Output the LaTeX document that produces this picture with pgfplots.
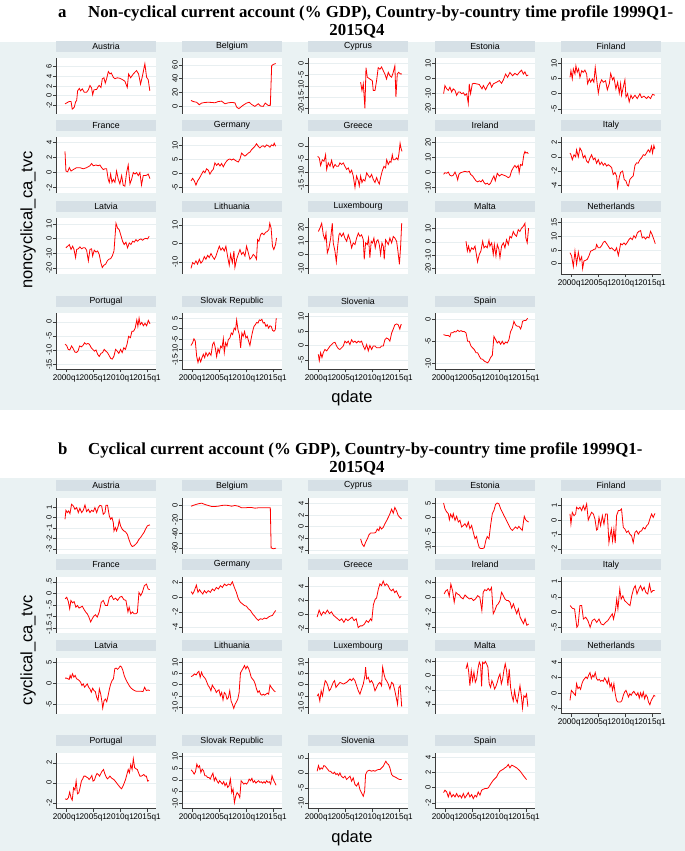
\documentclass[border=0pt]{standalone}
\usepackage{pgfplots}
\pgfplotsset{compat=1.18}
\usepackage{fontspec}
\setmainfont{Liberation Serif}
\newfontfamily\arial{Liberation Sans}
\definecolor{bgc}{RGB}{234,242,243}
\definecolor{stripc}{RGB}{214,224,230}
\definecolor{gridc}{RGB}{232,239,241}
\definecolor{axc}{RGB}{60,60,60}

\pgfplotsset{
  panel/.style={
    scale only axis, width=100pt, height=56pt, anchor=south west,
    xmin=-3.8, xmax=70.7,
    axis background/.style={fill=white},
    axis y line*=left, axis x line*=bottom,
    axis line style={draw=axc, line width=0.6pt},
    x axis line style={draw=none}, xtick=\empty,
    tick align=outside, major tick length=3pt,
    tick style={draw=axc, line width=0.5pt},
    ymajorgrids, grid style={draw=gridc, line width=0.6pt},
    yticklabel style={rotate=90, anchor=south, inner sep=1pt, font=\arial\fontsize{7.5}{8}\selectfont},
    xticklabel style={font=\arial\fontsize{8.2}{9}\selectfont, inner sep=1pt, yshift=-1.5pt},
    title style={at={(0.5,1)}, anchor=south, yshift=0pt, fill=stripc,
      minimum width=100pt, minimum height=11pt, inner sep=0pt,
      font=\arial\fontsize{8.8}{9}\selectfont},
  },
  xbottom/.style={x axis line style={draw=axc}, xtick={4,24,44,64},
    xticklabels={2000q1,2005q1,2010q1,2015q1}},
}
% #1 left, #2 bottom (px from top), #3 name, #4 ymin, #5 ymax, #6 ticks, #7 extra, #8 data
\newcommand{\panel}[8]{%
  \begin{axis}[panel, at={(#1pt,-#2pt)}, title={#3}, ymin=#4, ymax=#5,
    ytick={#6}, yticklabels={#6}, #7]
  \addplot[red, line width=0.8pt] coordinates {#8};
  \end{axis}}

\begin{document}
\begin{tikzpicture}
\useasboundingbox (0pt,0pt) rectangle (685pt,-851pt);
\fill[white] (0pt,0pt) rectangle (685pt,-851pt);
\fill[bgc] (0pt,-42pt) rectangle (685pt,-410pt);
\fill[bgc] (0pt,-478pt) rectangle (685pt,-851pt);

% titles
\node[anchor=base west, font=\bfseries\fontsize{16.8}{18}\selectfont, inner sep=0pt] at (58pt,-18pt) {a};
\node[anchor=base west, font=\bfseries\fontsize{16.8}{18}\selectfont, inner sep=0pt] at (88pt,-18pt) {Non-cyclical current account (\% GDP), Country-by-country time profile 1999Q1-};
\node[anchor=base, font=\bfseries\fontsize{16.8}{18}\selectfont, inner sep=0pt] at (357pt,-36pt) {2015Q4};
\node[anchor=base west, font=\bfseries\fontsize{16.8}{18}\selectfont, inner sep=0pt] at (58pt,-454pt) {b};
\node[anchor=base west, font=\bfseries\fontsize{16.8}{18}\selectfont, inner sep=0pt] at (88pt,-454pt) {Cyclical current account (\% GDP), Country-by-country time profile 1999Q1-};
\node[anchor=base, font=\bfseries\fontsize{16.8}{18}\selectfont, inner sep=0pt] at (357pt,-472pt) {2015Q4};

% axis titles
\node[font=\arial\fontsize{16.5}{18}\selectfont] at (352pt,-398pt) {qdate};
\node[font=\arial\fontsize{16.5}{18}\selectfont] at (352pt,-838pt) {qdate};
\node[rotate=90, font=\arial\fontsize{16.5}{18}\selectfont] at (28pt,-220pt) {noncyclical\_ca\_tvc};
\node[rotate=90, font=\arial\fontsize{16.5}{18}\selectfont] at (28pt,-650pt) {cyclical\_ca\_tvc};

%================ panel a ================
\panel{56}{114}{Austria}{-3.8}{7.8}{-2,0,2,4,6}{}{(2.9,-1.7)(6.1,-1.2)(7.4,-1.2)(8.3,-2.8)(9.8,-2.4)(10.8,-1.3)(11.6,-1.0)(12.3,1.0)(13.6,1.5)(14.5,1.0)(15.8,1.4)(17.3,0.7)(19,0.7)(20.3,1.2)(21.5,2.1)(22.7,1.6)(23.5,0.2)(24.5,1.2)(26.5,1.3)(27.7,1.9)(28.4,2.1)(29.7,1.7)(30.7,3.5)(31.9,3.7)(32.9,2.6)(33.9,3.5)(35.2,5.0)(36.4,4.5)(37.4,4.7)(38.9,3.8)(40.1,3.5)(41.8,3.7)(43.8,3.6)(45.8,3.3)(47.5,3.0)(49.3,1.7)(50.3,4.5)(51.8,3.7)(53.8,4.5)(56.2,5.2)(57.7,4.5)(59.2,2.4)(60.7,4.2)(62.4,6.6)(63.7,3.8)(64.9,3.3)(66.1,1.0)}

\panel{182}{114}{Belgium}{-11}{70}{0,20,40,60}{}{(2.9,8.6)(4.6,7)(7.1,6)(9.1,2.4)(10.8,4.8)(13.3,5.7)(15.8,6)(18.3,5.7)(20.7,5.2)(23.2,7)(25.7,7.6)(28.2,3.8)(30.7,5.2)(33.2,5.7)(35.6,5.2)(36.9,-1)(38.6,-3.3)(40.6,0)(42.3,2.4)(44.3,4.8)(46.3,6)(48,2.9)(50.5,0)(53,3.8)(54.7,0.5)(56.7,0)(58.2,4.8)(60.4,1.4)(62,1.5)(63,59)(64.5,61)(66,62)}

\panel{308}{114}{Cyprus}{-22.5}{2.5}{-20,-15,-10,-5,0}{}{(35.4,-8.3)(36.4,-12)(37.4,-9)(38.6,-20)(39.4,-1.8)(40.4,-6.1)(42.3,-6.9)(44.1,-7.6)(44.8,-12)(46.1,-12)(47.3,-7.6)(48.5,-1.8)(49.8,-2.5)(51,-1.5)(52.3,-3.2)(53.5,-4.7)(54.7,-6.9)(56,-3.9)(57.2,-5.4)(58.5,-6.1)(59.7,-3.9)(60.9,-1)(61.7,-14.9)(62.7,-4.7)(63.7,-3.9)(64.6,-4.4)(65.5,-4.7)(66,-4.5)}

\panel{435}{114}{Estonia}{-23.7}{13.5}{-20,-10,0,10}{}{(2.6,-10.2)(3.6,-4.8)(4.9,-7)(6.1,-8)(7.3,-5.9)(8.6,-9.1)(9.8,-7)(11.1,-8)(12.3,-11.3)(13.6,-9.1)(14.8,-9.1)(16,-10.2)(17.3,-9.6)(18.5,-11.3)(19.8,-10.2)(21,-16.7)(21.7,-3.7)(22.7,-10.2)(24,-3.7)(25.2,-3.3)(27.2,-3.7)(29.2,-4.1)(31.2,-7)(32.2,-4.8)(33.9,-7.6)(35.4,-4.8)(37.1,-2.6)(38.4,-5.9)(39.6,-3.7)(42.1,-2.6)(44.1,-1.5)(45.8,-3.3)(47.1,-1.1)(48.8,2.8)(50.3,0.7)(52,3.9)(54,1.7)(55.7,3.3)(57.5,2.2)(59,3.9)(60.7,5.4)(62,2.8)(63.2,4.3)(64.4,1.7)(65.7,2.2)}

\panel{561}{114}{Finland}{-6.7}{11.8}{-5,0,5,10}{}{(2.9,5.4)(3.6,7.6)(4.6,4.9)(5.4,8.2)(6.6,6.5)(7.3,9.2)(8.3,7.1)(9.3,8.2)(10.3,5.4)(11.6,7.6)(12.8,7.1)(14,7.8)(15.3,6.5)(16,3.3)(17.3,4.9)(18.3,3.8)(19.5,4.9)(20.7,3.8)(21.7,8.7)(22.7,4.9)(24,0.2)(25.2,3.3)(26.5,4.6)(27.7,3.8)(29.4,4.3)(30.7,1.3)(32.2,3.3)(33.2,6.7)(34.6,4.6)(35.6,5.4)(37.1,1.6)(38.4,3.8)(39.6,0.2)(40.6,3.3)(41.3,-0.5)(42.6,2.2)(43.8,4.6)(44.6,-1.1)(45.8,0)(47,-2.7)(48.3,-0.5)(49.5,-1.6)(51.3,-0.5)(53,-1.6)(55,0)(56.2,-1.3)(58,-0.8)(60,-1.6)(61.2,-0.9)(62.9,-1.6)(64.4,-0.2)(66.1,-0.5)}

\panel{56}{193}{France}{-2.7}{4.7}{-2,0,2,4}{}{(2.9,2.8)(3.6,0.2)(4.9,0.1)(6.1,0.65)(7.4,0.2)(9.1,0.4)(11.6,0.65)(14,0.65)(16.5,0.5)(19,0.65)(21.5,0.9)(22.7,1.2)(24,0.9)(26,1.0)(27.7,0.9)(28.9,1.0)(30.2,0.65)(31.4,0.4)(32.7,0.5)(33.9,0.5)(35.1,-0.9)(35.9,-1.3)(36.9,-0.2)(37.9,-1.3)(38.9,-0.9)(40.1,-1.3)(41.3,0.2)(42.6,-0.9)(43.8,-1.5)(45.1,-0.4)(46.3,-1.7)(47.5,-1.8)(48.8,0)(50,1.0)(51.3,-1.5)(52.5,-0.9)(53.8,0)(55,-0.2)(56.2,0)(57.5,-0.4)(58.7,0)(59.9,-1.65)(61.2,-0.4)(62.4,-0.4)(63.7,-0.35)(64.9,-0.2)(66.2,-0.8)}

\panel{182}{193}{Germany}{-6.9}{13}{-5,0,5,10}{}{(2.9,-2.6)(4.1,-1.7)(5.4,-2.6)(6.6,-4.1)(7.8,-2.6)(9.1,-1.7)(10.8,-0.2)(12.1,0.9)(13.3,0.3)(14.5,1.7)(15.8,1.2)(17,-0.2)(18.3,0.9)(19.5,1.5)(20.7,3.8)(22,2.9)(23.2,3.6)(24.5,2.7)(25.7,3.6)(27,2.4)(28.2,3.6)(29.4,4.4)(30.7,5.0)(31.9,5.2)(33.2,4.8)(34.4,5.2)(35.6,4.8)(36.9,4.4)(38.1,4.1)(39.4,5.2)(40.6,7.3)(41.8,6.7)(43.1,6.2)(44.3,6.7)(45.6,7.3)(46.8,7.6)(48,8.5)(49.3,9.1)(50.5,9.7)(51.7,10.6)(53,9.7)(54.2,9.1)(55.5,9.7)(56.7,9.9)(57.9,9.4)(59.2,10.2)(60.4,9.9)(61.7,9.4)(62.9,10.2)(64.2,9.9)(64.9,10.8)(65.9,9.7)}

\panel{308}{193}{Greece}{-18}{3.4}{-15,-10,-5,0}{}{(3.4,-4)(4.6,-4.6)(5.6,-7.5)(6.9,-5.3)(8.1,-5.9)(9.3,-3.4)(10.1,-9)(11.3,-6.5)(12.6,-7.8)(13.8,-5.5)(15,-8.4)(16.3,-7.1)(17.5,-7.8)(18.8,-7.8)(20,-6.5)(21.2,-7.1)(22.5,-6.5)(23.7,-7.8)(25,-9)(26.2,-8.4)(27.5,-10.3)(28.7,-9.3)(29.9,-11.5)(31.2,-15.9)(32.4,-11.5)(33.7,-13.4)(34.4,-15.3)(35.4,-11.5)(36.4,-14)(37.4,-12.8)(38.6,-13.4)(39.9,-10.3)(41.1,-11.3)(42.3,-12.1)(43.6,-10.9)(44.8,-12.8)(46.1,-14)(47.3,-12.1)(48.5,-13.8)(49.3,-14.6)(50.3,-12.1)(51.5,-9.6)(52.8,-7.8)(54,-8.4)(54.8,-5.3)(56,-7.1)(57.2,-5.9)(58,-6.3)(59,-3.4)(59.7,-5.3)(60.9,-5.3)(62.2,-4.6)(63.2,-5.3)(64,-2.8)(64.8,1.0)(65.5,-0.9)(66.2,-2.1)}

\panel{435}{193}{Ireland}{-13.5}{23.7}{-10,0,10,20}{}{(2.6,-1.1)(3.6,0)(4.9,-0.4)(6.1,0.4)(7.3,-1.7)(8.6,-2.2)(9.8,-1.7)(11.1,0.4)(12.3,-2.2)(13.1,-4.8)(14,-1.1)(15.3,0)(16.8,0.4)(18.5,0.9)(20.3,0.4)(21.7,0.9)(22.7,-1.1)(24.2,-2.2)(25.5,-3.9)(26.7,-5.4)(28,-6.1)(29.2,-5.4)(30.4,-6.1)(31.7,-4.8)(32.7,-6.5)(33.9,-7.6)(35.1,-7)(36.4,-8)(37.6,-7)(38.9,-4.3)(40.1,-2.2)(41.1,-5.4)(42.6,-0.4)(44.1,-2.2)(45.8,-1.1)(47.5,-1.7)(49,-2.2)(50.8,-3.3)(52,-2.6)(53.2,1.1)(54.5,3.3)(55.7,4.8)(56.9,3.3)(58.2,4.8)(58.9,0)(59.9,5.4)(61.2,4.8)(62.4,12)(63.2,14.1)(63.9,13)(64.9,13.5)(65.7,12.6)}

\panel{561}{193}{Italy}{-5.1}{2.8}{-4,-2,0,2}{}{(2.9,0.55)(3.6,0.3)(4.6,-0.4)(5.9,0.3)(7.1,0)(7.8,1.0)(9.1,0)(10.3,1.25)(11.6,0.8)(12.8,-0.15)(14,0.2)(15.3,-0.6)(16.5,-0.85)(17.8,-0.15)(19,0.3)(20.3,-0.4)(21.5,-0.15)(22.7,-0.9)(24,-0.4)(25.2,-1.1)(26.5,-0.75)(27.7,-1.2)(28.9,-0.9)(30.2,-1.3)(31.4,-1.1)(32.7,-1.3)(33.9,-1.5)(35.1,-2.5)(36.4,-2.2)(37.6,-2.7)(38.4,-4.3)(39.6,-2.9)(40.6,-2.2)(42.1,-2)(43.3,-3.2)(44.6,-3.4)(45.6,-4)(46.5,-4.1)(47.5,-3.2)(48.8,-2.9)(50,-2.7)(51.3,-1.2)(52.5,-0.85)(53.7,-0.9)(55,-0.4)(56.2,-0.15)(57.5,0.3)(58.7,0.2)(59.9,0.55)(61.2,1.0)(62.4,0.65)(63.6,1.5)(64.4,0.55)(65.4,1.6)(66.1,1.1)}

\panel{56}{274}{Latvia}{-24}{14}{-20,-10,0,10}{}{(3.6,-6.2)(4.9,-5.1)(6.1,-4)(7.4,-7.3)(8.6,-5.1)(9.6,-7.3)(10.8,-12.9)(11.6,-7.3)(12.8,-6.9)(14,-5.6)(15.3,-6.9)(16.5,-6.2)(17.8,-6.2)(19,-7.8)(20.3,-15.1)(21.5,-7.3)(22.7,-6.9)(23.5,-11.8)(24.7,-7.8)(26,-9.1)(27.2,-8.4)(28.4,-10.7)(29.7,-16.7)(30.7,-19.6)(31.9,-18)(33.2,-17.3)(34.4,-15.1)(35.6,-14)(36.9,-13.6)(38.1,-11.8)(39.4,-8.4)(40.1,0.4)(40.9,10.4)(42.1,7.1)(43.3,6)(44.6,2)(45.8,-1.8)(47,-4)(48.3,-2.4)(49.5,-6.2)(50.8,-2.9)(52,-4)(53.3,-1.8)(54.5,-2.4)(55.7,-0.7)(57,-1.8)(58.2,-0.7)(59.5,-0.2)(60.7,-1.1)(61.9,-0.2)(63.2,0.2)(64.4,-0.2)(65.6,1.6)}

\panel{182}{274}{Lithuania}{-16.3}{13.7}{-10,0,10}{}{(2.9,-13.3)(4.1,-10.2)(5.4,-11)(6.6,-9.3)(7.8,-11)(9.1,-8.4)(10.3,-10.5)(11.6,-9.3)(12.8,-7)(14,-8.4)(15.3,-6.3)(16.5,-7.5)(17.8,-5.3)(19,-7)(20.3,-8.4)(21.5,-6.7)(22.7,-4)(24,-1.4)(25.2,-3.5)(26.5,-2.3)(27.7,-4)(28.9,-1.4)(30.2,-7)(31.4,-11.6)(32.4,-5.8)(33.7,-10.2)(34.9,-4)(35.6,-12.8)(36.9,-8.4)(38.1,-5.8)(39.4,-3.2)(40.6,-5.8)(41.8,-4.6)(43.1,-6.7)(44.3,-1.4)(45.6,-4.9)(46.8,-8.4)(48,-7.5)(49.3,-5.8)(50.5,-6.7)(51.7,-8.4)(52.5,2.1)(53.5,1.2)(54.7,4.7)(55.9,5.6)(57.2,4.7)(58.4,6)(59.7,6.5)(60.9,7.4)(61.6,10.9)(62.6,8.2)(63.6,-1.4)(64.6,-3.2)(65.9,-0.5)(66.6,3)}

\panel{308}{274}{Luxembourg}{-14}{26.7}{-10,0,10,20}{}{(3.9,16.9)(5.1,19.3)(6.4,22.9)(7.6,14.5)(8.8,11)(9.6,15.7)(10.6,1.4)(11.8,5)(13.1,12.1)(14.3,22.9)(15,8.6)(16.3,2.6)(17.3,-5.2)(18.3,6.2)(19.3,14.5)(20,15.7)(21.2,13.3)(22.5,15.7)(23.7,12.1)(25,9.8)(26.2,14.5)(27.5,10.9)(28.7,5)(29.9,8.6)(31.2,7.4)(32.4,12.1)(33.7,15.7)(34.9,13.3)(36.1,14.5)(37.4,10.9)(38.1,-3.3)(39.1,8.6)(40.4,7.4)(41.3,12.1)(42.3,-2.1)(43.3,9.8)(44.3,8.6)(45.3,12.1)(46.3,5)(47.3,9.8)(48.3,10.9)(49.3,7.4)(50.3,0.2)(51.3,8.6)(52.3,6.2)(53,-3.3)(54,10.9)(54.7,9.8)(56,7.4)(57.2,12.1)(58.5,8.6)(59.7,13.3)(60.9,12.1)(62.2,9.8)(63.2,2.6)(64.3,-6.9)(65.2,6.2)(66,22.9)}

\panel{435}{274}{Malta}{-24.3}{18.1}{-20,-10,0,10}{}{(19.3,0.5)(20.3,-6.9)(21.2,-3.2)(22.2,-7.7)(23.5,-4.5)(24.7,-5.7)(26,-3.2)(27.2,-10.7)(27.9,-15.1)(29.2,-9.4)(30.4,-6.9)(31.7,0.5)(32.7,-4.5)(33.9,-3.2)(35.1,-4.5)(36.4,1.2)(37.1,-3.2)(38.4,-0.7)(39.6,-9.4)(40.4,-2)(41.6,-10.7)(42.6,-2)(43.8,-5.7)(44.6,-11.9)(45.8,-3.2)(47.1,-0.7)(48.3,-4.5)(49.5,1.7)(50.8,-2)(52,4.2)(53.2,3)(54.5,7.9)(55.7,5.5)(56.9,4.2)(58.2,9.2)(59.4,7.9)(60.7,10.4)(61.9,11.7)(63.2,14.1)(63.9,3)(64.9,-0.7)(65.9,10.4)}

\panel{561}{274}{Netherlands}{-3.8}{16.7}{0,5,10,15}{xbottom}{(2.9,4)(4.1,2.8)(5.4,-1.1)(6.6,4.6)(7.8,-0.2)(9.1,4.2)(10.3,1)(11.6,2.5)(12.3,-1.8)(13.3,1)(14.5,1.2)(15.8,1.6)(17,2.8)(18.3,4.6)(19.5,4.8)(20.7,5.2)(22,5.4)(22.7,7)(24,5.8)(25.2,5.8)(26.5,6.6)(27.7,7.8)(28.9,8.2)(30.2,7.3)(31.4,6.4)(32.7,5.4)(33.9,5.8)(35.1,5.2)(36.4,4.6)(37.6,5.8)(38.9,3)(39.6,4.6)(40.6,7.3)(41.8,6.9)(43.1,7.6)(44.3,6.9)(45.6,7.8)(46.8,8.8)(48,9.4)(49.3,8.8)(50.5,10.2)(51.8,9.4)(53,11.2)(54.2,11.8)(55.5,12.1)(56.7,9.4)(57.9,9.8)(59.2,9)(60.4,9.8)(61.7,9.4)(62.9,11.8)(64.1,10.6)(65.4,8.8)(66.4,7.3)}

\panel{56}{369}{Portugal}{-16.6}{3.1}{-15,-10,-5,0}{xbottom}{(2.9,-7.9)(4.1,-8.3)(5.3,-9.7)(6.5,-9.9)(7.8,-8.5)(9,-9.4)(10.2,-10.6)(11.4,-10.8)(12.6,-10.3)(13.8,-8.5)(15.1,-8.8)(16.3,-8.3)(17.5,-7.4)(18.7,-7.9)(19.9,-7.6)(21.1,-7.9)(22.4,-9.1)(23.6,-9.7)(24.8,-10.3)(26,-9.9)(27.2,-11.4)(28.4,-12.2)(29.7,-11.1)(30.9,-10.8)(32.1,-9.7)(33.3,-10.3)(34.5,-10.8)(35.7,-11.8)(37,-12.9)(38.2,-13.1)(39.4,-12)(40.6,-9.7)(41.8,-10.3)(43,-11.1)(44.3,-9.7)(45.5,-10.8)(46.7,-9.1)(47.9,-9.7)(49.1,-7.9)(50.3,-5.1)(51.6,-5.6)(52.8,-3.3)(54,-3.3)(55.2,-2.2)(56.4,0.7)(57.2,-1.6)(58.1,1.3)(58.9,-1)(60.1,-0.2)(61.3,-1.4)(62.5,-0.5)(63.7,-1.4)(65,0.5)(66.2,-0.7)}

\panel{182}{369}{Slovak Republic}{-19.2}{7.5}{-15,-10,-5,0,5}{xbottom}{(2.9,-8)(4.1,-6.7)(5.1,-4.8)(6.1,-5.9)(7.1,-13)(8.1,-16.1)(9.1,-13.8)(10.1,-15.8)(11.1,-13.8)(12.1,-12.2)(13.1,-13.8)(14,-11.4)(15.3,-13)(16.5,-11.4)(17.8,-12.7)(19,-7.5)(20,-6.4)(21,-9.1)(22,-13.3)(23,-9.5)(24,-11.4)(25,-8.3)(26,-9.1)(27,-4.8)(27.7,-11.4)(28.7,-6.7)(29.7,-8.3)(30.7,-5.2)(31.9,-4.4)(32.9,-2)(33.9,-2.8)(35.1,0.3)(36.1,-0.5)(36.9,4.2)(37.9,-0.5)(38.9,-2.8)(39.9,-9.1)(40.8,-2)(41.8,-3.6)(42.8,-1.3)(43.8,-4.4)(44.8,-3.6)(45.8,-5.9)(46.8,-8)(47.8,-4.4)(48.8,-1.3)(49.8,1.1)(50.8,1.9)(51.8,3)(52.8,2.7)(53.8,4.2)(54.7,3.9)(55.7,4.5)(56.7,2.7)(57.7,3)(58.7,1.1)(59.7,1.9)(60.7,0.3)(61.7,1.4)(62.7,1.1)(63.7,-0.8)(64.7,-1.2)(65.7,-0.5)(66.4,5)}

\panel{308}{369}{Slovenia}{-8.2}{11.3}{-5,0,5,10}{xbottom}{(3.9,-3.1)(4.6,-5.3)(5.6,-2.5)(6.6,-4.2)(7.6,-2.5)(8.8,-1.4)(10.1,-1.9)(11.3,-1.1)(12.6,-0.2)(13.8,0.3)(15,0.9)(16.3,1.1)(17.5,-0.2)(18.8,-1.1)(20,-1.4)(21.2,-0.8)(22.5,-0.2)(23.7,1.5)(25,0.9)(26.2,1.5)(27.4,0.3)(28.7,2)(29.9,1.1)(31.2,1.5)(32.4,0.9)(33.7,1.5)(34.9,1.1)(36.1,1.5)(37.4,-0.2)(38.6,-1.4)(39.9,0.3)(41.1,-1.9)(42.3,0)(43.6,-1.4)(44.8,-0.2)(46.1,-0.2)(47.3,-0.8)(48.5,-0.8)(49.8,-0.8)(51,-0.2)(52.3,-0.2)(53.5,2)(54.7,2.6)(56,2.3)(57.2,1.5)(58.5,4.3)(59.7,5.7)(60.9,7.2)(62.2,7.5)(63.4,7.2)(64.6,5.7)(65.4,7.2)(66.2,7.2)}

\panel{435}{369}{Spain}{-11.3}{1.4}{-10,-5,0}{xbottom}{(2.6,-3.5)(4.4,-3.7)(6.1,-3.7)(7.3,-4)(8.1,-3.1)(9.3,-3.1)(10.6,-2.8)(11.8,-2.9)(13.1,-2.5)(14.3,-2.8)(15.5,-2.6)(16.8,-2.8)(18,-2.8)(19.3,-3.1)(20.5,-5)(21.7,-5)(23,-6.1)(24.2,-6.5)(25.5,-6.9)(26.7,-7.6)(27.9,-7.6)(29.2,-8.4)(30.4,-9)(31.7,-9.1)(32.9,-9.5)(34.1,-9.7)(35.4,-9.9)(36.4,-9.5)(37.6,-8.7)(38.9,-8.2)(40.1,-3.9)(41.3,-4.6)(42.6,-5.4)(43.8,-5)(45.1,-5.7)(46.3,-5)(47.5,-5.7)(48.8,-5.2)(50,-5.4)(51.3,-4.6)(52.5,-2.8)(53.8,-2)(55,-0.5)(56.2,-1.3)(57.5,-1.6)(58.7,-1.6)(60,-2.2)(60.7,-1.6)(61.4,-0.5)(62.7,-0.3)(63.9,-0.3)(65.2,0.2)}

%================ panel b ================
\panel{56}{553.5}{Austria}{-3.45}{1.93}{-3,-2,-1,0,1}{}{(2.9,-0.16)(3.6,0.7)(4.6,0.48)(5.6,0.64)(6.6,0.38)(7.8,1.28)(9.1,1.12)(10.3,0.8)(11.6,0.96)(12.8,0.48)(14,0.89)(15.3,0.48)(16.5,0.7)(17.8,1.21)(19,0.58)(20.3,0.8)(21.5,0.48)(22.7,0.7)(24,0.58)(25.2,0.96)(26.5,0.48)(27.7,0.96)(28.9,1.18)(30.2,1.12)(31.4,0.32)(32.7,0.48)(33.4,1.18)(34.6,1.18)(35.9,0.16)(36.9,-0.16)(37.9,0)(38.9,-0.48)(39.4,-1.28)(40.4,-0.96)(41.3,-1.28)(42.6,-0.8)(43.3,-0.26)(44.3,-0.8)(45.6,-1.12)(46.8,-1.28)(48,-1.37)(49.3,-1.6)(50.5,-2.08)(51.8,-2.56)(53,-2.78)(54.2,-2.72)(55.5,-2.56)(56.7,-2.4)(58,-2.08)(59.2,-1.92)(60.5,-1.66)(61.7,-1.44)(62.9,-1.12)(64.2,-0.8)(65.4,-0.73)(66.2,-0.7)}

\panel{182}{553.5}{Belgium}{-68}{11.3}{-60,-40,-20,0}{}{(2.9,-1)(5.9,1)(8.3,2.4)(10.8,3.3)(13.3,1.4)(15.8,0)(18.3,-1.4)(20.7,-1.4)(23.2,-1)(25.7,0)(28.2,0.5)(30.7,0)(33.2,-1)(35.6,0)(38.1,-1)(40.6,-3.3)(43.1,-3.3)(45.6,-2.8)(48,-2.8)(50.5,-3.8)(53,-3.3)(55.5,-3.3)(57.9,-3.3)(60.4,-3.3)(62,-3.3)(62.6,-60)(64.2,-61.3)(66.2,-60.4)}

\panel{308}{553.5}{Cyprus}{-4.6}{5}{-4,-2,0,2,4}{}{(35.4,-2.1)(36.6,-3)(37.9,-3.4)(39.1,-2.7)(40.4,-2.1)(41.6,-1.4)(42.8,-1.1)(44.1,-1.1)(45.3,-1.1)(46.6,-1)(47.8,-0.4)(49,-0.7)(49.8,0)(51,-0.4)(52.3,-0.1)(53.5,0.5)(54.7,1)(56,1.6)(57.2,2.2)(58.5,3)(59.7,2.3)(60.9,3.3)(62.2,2.7)(63.4,1.9)(64.6,1.6)(65.9,1.3)}

\panel{435}{553.5}{Estonia}{-12.4}{7}{-10,-5,0,5}{}{(2.6,5.1)(3.6,3.1)(4.9,2)(6.1,1.4)(6.9,-0.7)(7.8,1.2)(9.1,0)(9.8,1.4)(11.1,-0.9)(12.3,0.5)(13.6,-1.5)(14.8,-0.9)(16,-3.2)(17.3,-2.7)(18.5,-2.1)(19.8,-3.2)(21,-1.5)(22.2,-3.8)(23.5,-2.7)(24.7,-5)(26,-7.3)(27.2,-6.5)(27.9,-8.4)(29.2,-10.4)(30.4,-10.7)(31.7,-10.7)(32.9,-10.4)(34.1,-7.8)(35.1,-6.5)(36.4,-7.3)(37.6,-2.7)(38.9,1.4)(40.1,2.5)(41.3,4.6)(42.6,5.1)(43.8,4.8)(45.1,3.1)(46.3,2)(47.5,0.8)(48.8,-0.3)(50,-1.5)(51.3,-2.7)(52.5,-3.8)(53.8,-4.4)(55,-3.8)(56.2,-3.2)(57.5,-3.8)(58.7,-3)(60,-3.8)(61.2,-4.4)(61.9,-2.1)(62.7,0.5)(63.7,-0.7)(64.9,-1.2)(65.9,-1.5)}

\panel{561}{553.5}{Finland}{-2.3}{1.55}{-2,-1,0,1}{}{(2.9,0.42)(3.6,-0.28)(4.6,0.53)(5.9,0.3)(7.1,0.42)(7.8,0.88)(9.1,0.76)(10.3,0.88)(11.6,0.65)(12.8,0.99)(14,0.69)(15.3,1.11)(16.5,0)(17.8,0.3)(19,0.53)(20.3,0.42)(21.5,0.07)(22.7,-0.69)(23.5,-0.62)(24.5,0.18)(25.7,-0.39)(27,0.3)(28.2,-0.28)(29.4,0.42)(30.7,0.42)(31.9,-1.55)(32.7,-1.09)(33.7,-0.62)(34.6,-1.43)(35.6,-0.62)(36.6,-1.59)(37.6,0.3)(38.9,0.65)(40.1,0.65)(41.3,0.76)(42.6,-0.51)(43.8,-0.62)(45.1,-0.85)(46.3,-0.74)(47.5,-0.97)(48.8,-1.09)(50,-1.55)(51.3,-0.85)(52.5,-0.74)(53.8,-0.97)(55,-0.79)(56.2,-0.74)(57.5,-0.51)(58.7,-0.62)(60,-0.39)(61.2,-0.28)(62.4,0.07)(63.7,0.42)(64.9,0.18)(66.2,0.46)}

\panel{56}{632.5}{France}{-1.7}{0.73}{-1.5,-1,-0.5,0,0.5}{yticklabels={-1.5,-1,-.5,0,.5}}{(3,-0.24)(4.2,-0.17)(5.4,-0.36)(6.4,-0.67)(7.3,-0.31)(8.5,-0.41)(9.7,-0.36)(11,-0.6)(12.2,-0.53)(13.4,-0.64)(14.6,-0.6)(15.8,-0.56)(17.1,-0.7)(18.3,-0.81)(19.5,-0.89)(20.7,-1.03)(22,-1.24)(23.2,-1.1)(24.4,-0.99)(25.6,-0.93)(26.9,-1.03)(28.4,-0.81)(29.9,-0.39)(31.4,-0.31)(33,-0.53)(34.5,-0.53)(36,-0.17)(37.6,-0.1)(39.1,-0.27)(40.6,-0.21)(42.1,-0.31)(43.7,-0.17)(45.2,-0.13)(46.7,-0.27)(48.3,-0.31)(49.8,-0.81)(50.7,-0.6)(51.9,-0.89)(53.2,-0.81)(54.4,-0.89)(55.6,-0.89)(56.8,-0.84)(58,0.04)(59.3,-0.1)(60.5,0.04)(62,0.33)(63.6,0.4)(64.8,0.19)(66,0.16)}

\panel{182}{632.5}{Germany}{-4.75}{2.8}{-4,-2,0,2}{}{(3,0.76)(4.2,0.44)(5.4,0.89)(6.9,1.64)(8.1,0.67)(9.3,1.02)(10.5,0.67)(11.7,0.44)(12.9,0.89)(14.3,0.58)(15.8,0.89)(17.3,0.67)(18.8,1.11)(20.3,0.89)(21.8,1.33)(23.3,1.11)(24.8,1.56)(26.3,1.33)(27.8,1.78)(29.3,1.56)(30.8,1.78)(32.3,1.64)(33.7,2.09)(35.2,1.33)(36.7,0.67)(38.2,-0.22)(39.7,-0.67)(41.2,-0.89)(42.7,-1.11)(44.2,-1.2)(45.7,-1.56)(47.2,-1.78)(48.7,-2.22)(50.2,-2.53)(51.7,-2.89)(53.1,-3.11)(54.6,-2.89)(56.1,-2.98)(57.6,-2.8)(59.1,-2.89)(60.6,-2.67)(62.1,-2.53)(63.6,-2.44)(65.1,-2)(66,-1.78)}

\panel{308}{632.5}{Greece}{-2.6}{5.4}{-2,0,2,4}{}{(3,-0.4)(4.5,0.6)(6.1,-0.15)(7.6,0.35)(9.1,0.1)(10.6,0.6)(12.2,0.1)(13.7,0.35)(15.2,-0.15)(16.8,-0.4)(18.3,-0.65)(19.8,-0.9)(21.3,-0.65)(22.9,-1.15)(24.4,-0.65)(25.9,-0.9)(27.5,-0.65)(29,-0.4)(30.5,-0.9)(32.1,-0.65)(33.6,-1.9)(35.1,-1.65)(36.6,-1.65)(38.2,-1.4)(39.7,-0.9)(41.2,-1.15)(42.8,-0.65)(43.7,-0.9)(44.9,1.35)(46.1,2.1)(47.3,2.35)(48.6,3.6)(49.8,4.35)(51,4.1)(52.2,4.75)(53.5,4.1)(54.7,4.35)(55.9,4.1)(57.1,3.6)(58.4,3.35)(59.6,3.6)(60.8,3.1)(62,3.35)(63.2,2.85)(64.5,2.35)(65.7,2.6)}

\panel{435}{632.5}{Ireland}{-4.75}{2.8}{-4,-2,0,2}{}{(3,0.44)(4.3,0.89)(5.5,1.02)(6.8,0.13)(8,1.78)(9.3,0.89)(10.5,-0.67)(11.8,0.67)(13,0.44)(14.3,0.31)(15.5,0)(17.1,-0.22)(18.6,0.31)(20.2,0)(21.8,-0.22)(23.3,-0.13)(24.9,-0.44)(26.4,-0.22)(28,0.22)(29.6,0)(31.1,-1.78)(32.1,0.67)(33.3,1.02)(34.6,0.89)(35.8,1.2)(37.1,0.89)(38.3,1.33)(39.6,-2.22)(40.8,-1.78)(42.1,-1.11)(43.3,-0.89)(44.6,-0.44)(45.8,0.67)(47.1,0.22)(48.3,-0.22)(49.6,-0.44)(50.8,-0.44)(52.1,-0.67)(53.3,-1.47)(54.6,-0.89)(55.8,-1.56)(57.1,-2.22)(58.3,-1.56)(59.6,-2.67)(60.8,-3.11)(62.1,-3.56)(63.3,-2.89)(64.6,-3.78)(66,-3.6)}

\panel{561}{632.5}{Italy}{-0.66}{1.17}{-0.5,0,0.5,1}{yticklabels={-.5,0,.5,1}}{(3,0.22)(4.7,0.13)(6.3,0.11)(8,-0.49)(8.9,-0.43)(10.3,0.22)(11.6,0.22)(12.9,-0.22)(14.6,-0.16)(16.2,-0.27)(17.9,-0.49)(19.5,-0.27)(21.2,-0.22)(22.8,-0.33)(24.5,-0.22)(26.1,-0.38)(27.8,-0.41)(29.4,-0.33)(31.1,-0.27)(32.7,-0.16)(34.4,-0.05)(35.3,-0.22)(36.7,0.05)(37.7,0.43)(38.6,0.11)(40,0.76)(41,0.43)(42.3,0.54)(43.6,0.38)(44.9,0.33)(46.2,0.27)(47.6,0.22)(48.9,0.54)(50.2,0.76)(51.5,0.87)(52.8,0.6)(54.2,0.76)(55.5,0.87)(56.8,0.71)(58.1,0.82)(59.4,0.65)(60.8,0.6)(62.1,0.92)(63.4,0.65)(64.7,0.71)(66,0.71)}

\panel{56}{713.5}{Latvia}{-7.2}{6.1}{-5,0,5}{}{(3,1.2)(4,1.2)(5,1.04)(6,0.88)(6.75,1.84)(7.5,1.2)(8.5,2.24)(9.5,1.44)(10.5,1.84)(11.5,1.04)(12.5,0.88)(13.5,0.64)(14.5,0.24)(15.5,-0.56)(16.5,-0.16)(17.5,-0.96)(18.5,-0.56)(19.5,-0.16)(20.5,-0.96)(21.5,-1.36)(22.5,-2.16)(23.5,-1.2)(24.5,-1.76)(25.5,-2)(26.5,-3.36)(27.5,-4.16)(28.5,-1.36)(29.5,-2.56)(30.5,-4.56)(31,-5.92)(32,-4.16)(33,-3.76)(34,-4.4)(35,-2.96)(36,-1.36)(37,-0.16)(38,0.64)(39,1.04)(40,3.44)(41,3.6)(42,3.28)(43,3.6)(44,4.08)(45,3.84)(46,3.04)(47,1.84)(48,1.04)(49,0.4)(50,-0.16)(51,-0.72)(52.25,-1.2)(53.5,-1.52)(54.75,-1.76)(56,-1.92)(57.25,-1.92)(58.5,-1.92)(59.75,-1.92)(61,-2)(62.25,-0.96)(63.5,-1.76)(64.75,-1.6)(66,-1.76)}

\panel{182}{713.5}{Lithuania}{-12.8}{12.1}{-10,-5,0,5,10}{}{(3,3.6)(4.25,4)(5.5,4.8)(6.75,4.35)(8,5.55)(8.75,6)(9.75,3.3)(10.75,5.55)(11.75,4)(12.75,3.3)(13.75,2.55)(14.75,1.05)(15.75,-0.45)(16.75,-1.2)(17.75,-2.7)(18.75,-0.15)(19.75,-1.2)(20.75,-1.95)(21.75,-3.45)(22.75,-2.7)(23.75,-2.25)(24.75,-4.95)(25.75,-3.45)(26.75,-6.75)(27.75,-3.45)(28.75,-4.2)(29.75,-6.45)(30.75,-5.7)(31.75,-2.7)(32.75,-7.2)(33.75,-8.7)(34.75,-10.5)(35.75,-8.7)(36.75,-7.65)(37.75,-6.45)(38.75,-3.45)(39.75,5.25)(40.75,6.3)(41.75,7.35)(42.75,8.55)(43.75,7.05)(44.75,8.25)(45.75,7.35)(46.75,5.55)(47.75,3.3)(48.75,2.55)(49.75,1.8)(50.75,0.3)(51.75,-1.95)(52.75,-3.45)(53.75,-2.7)(54.75,-4.2)(55.75,-4.65)(56.75,-4.2)(57.75,-4.65)(58.75,-4.2)(59.75,-3.75)(60.75,-4.2)(61.75,-0.15)(62.75,-1.2)(63.75,-1.95)(64.75,-2.7)(65.75,-3.15)}

\panel{308}{713.5}{Luxembourg}{-12.8}{12.1}{-10,-5,0,5,10}{}{(3,-4.95)(4,-4.2)(5,-7.2)(6,-2.7)(7,-4.95)(8,-1.2)(9,1.8)(10,1.05)(11,-0.45)(12,-2.7)(13,-1.95)(14,-0.45)(15,1.05)(16,1.8)(17,-1.2)(18,-0.45)(19,0.3)(20,1.05)(22.5,0.3)(25,1.05)(27.5,2.55)(28.7,1.8)(29.9,2.85)(31.2,1.8)(32.4,-0.45)(33.7,-2.7)(34.9,-4.2)(36.1,-1.95)(37.4,0.3)(38.6,4.05)(39.1,7.8)(39.9,2.55)(41.1,3.3)(42.3,1.05)(43.6,1.8)(44.8,0.3)(46.1,-2.7)(47.3,-1.2)(48.5,0.3)(49.8,1.05)(51,-0.45)(51.8,7.8)(52.8,4.8)(53.8,2.55)(54.7,1.8)(56,0.3)(57.2,-1.95)(58.5,1.05)(59.7,0.3)(60.9,-2.7)(62.2,-6.45)(62.9,-8.7)(63.9,-1.2)(64.9,-0.45)(66,-9.75)}

\panel{435}{713.5}{Malta}{-5.25}{2.5}{-4,-2,0,2}{}{(19.3,0.93)(20.3,1.63)(21.2,0.7)(22.2,-1.4)(23.2,0.7)(24.2,-0.7)(25.2,0.47)(26.2,-0.93)(27.2,-0.47)(28.2,0.93)(29.2,1.86)(30.2,1.4)(30.9,-1.49)(31.7,1.86)(32.7,1.63)(33.7,1.95)(34.6,1.63)(35.6,1.16)(36.6,-1.16)(37.6,-1.63)(38.6,-0.7)(39.6,-1.16)(40.6,-1.86)(41.6,-1.49)(42.6,-0.93)(43.6,-0.23)(44.6,0.23)(45.6,-1.16)(46.6,-0.47)(47.5,0.7)(48.5,1.63)(49.5,0.7)(50.5,-1.4)(51.5,0.93)(52.5,-1.63)(53.5,-2.79)(54.5,-3.49)(55.5,-2.09)(56.5,-3.26)(57.5,-3.72)(58.5,-2.56)(59.5,-1.4)(60.5,-2.79)(61.4,-4.51)(62.4,-2.79)(63.4,-3.02)(64.4,-2.56)(65.4,-4.28)}

\panel{561}{713.5}{Netherlands}{-2.65}{4.6}{-2,0,2,4}{xbottom}{(2.9,-0.96)(3.9,0.35)(4.9,0.13)(5.9,-0.09)(6.9,-0.3)(7.8,1.22)(8.8,0.57)(9.8,0.78)(10.8,0.48)(11.8,1.22)(12.8,1.65)(13.8,1.87)(14.8,2.09)(15.8,1.87)(16.8,2.3)(17.8,2.65)(18.8,1.87)(19.8,2.3)(20.7,2.09)(21.7,2.65)(22.7,1.87)(23.7,1.65)(24.7,1.78)(25.7,1.52)(26.7,1.65)(27.7,1.52)(28.7,1.96)(29.7,1.65)(30.7,1.22)(31.7,1.87)(32.7,0.78)(33.7,1.22)(34.6,0.35)(35.6,1.22)(36.6,-0.09)(37.6,-0.96)(38.6,-1.17)(39.6,-1.17)(40.6,-1.17)(41.6,-0.96)(42.6,-0.3)(43.6,0.13)(44.6,0.35)(45.6,-0.09)(46.5,-0.52)(47.5,-0.09)(48.5,-0.3)(49.5,0.04)(50.5,0.22)(51.5,-0.09)(52.5,-0.3)(53.5,0.04)(54.5,-0.65)(55.5,0.04)(56.5,-0.52)(57.5,0.13)(58.5,-0.74)(59.5,-0.22)(60.5,-0.52)(61.4,-1.17)(62.4,-1.52)(63.4,-0.96)(64.4,-0.65)(65.4,-0.3)(66.4,-0.43)}

\panel{56}{808.5}{Portugal}{-2.57}{3.03}{-2,0,2}{xbottom}{(3,-1.6)(4.2,-1.67)(5.4,-1.5)(6.4,-0.93)(7.4,-1.5)(8.3,-1.73)(9.3,-0.5)(10.3,-0.73)(11.2,0.17)(12.2,-1.1)(13.2,-1)(14.1,-0.5)(15.1,0.17)(16.1,0.4)(17,0.67)(18,0.67)(19,0.57)(19.9,0.5)(20.9,0.33)(21.9,0.5)(22.9,0.73)(23.8,0.17)(24.8,0.27)(25.8,0.67)(26.7,0.93)(27.7,0.83)(28.7,0.67)(29.6,0.93)(30.6,1.17)(31.6,1.33)(32.5,0.93)(33.5,0.6)(34.5,0.4)(35.4,0.5)(36.4,0.67)(37.4,0.5)(38.4,0.4)(39.3,0.33)(40.3,0.17)(41.3,0)(42.2,-0.17)(43.2,-0.33)(44.2,-0.5)(45.1,-0.6)(46.1,-0.33)(47.1,0)(48,0.33)(49,0.83)(50,1.33)(50.9,1)(51.9,1.83)(52.9,1.33)(53.8,2.4)(54.8,1.5)(55.8,1.4)(56.8,1.33)(57.7,1)(58.7,0.67)(59.7,0.67)(60.6,0.73)(61.6,0.83)(62.6,0.67)(63.5,0.67)(64.5,0.17)(65.5,0.23)}

\panel{182}{808.5}{Slovak Republic}{-12.1}{11.5}{-10,-5,0,5,10}{xbottom}{(3,4.2)(4.25,3.4)(5.25,2.4)(6.25,3.4)(7.25,6.6)(8.25,5.2)(9.25,5.9)(10.25,3.1)(11.25,4.5)(12.25,3.8)(13.25,1.7)(14.25,1.7)(15.25,1)(16.25,1)(17.25,0.3)(18.25,1.7)(19.25,2.8)(20.25,-0.4)(21.25,1)(22.25,-0.4)(23.25,-1.4)(24.25,-0.4)(25.25,-1.1)(26.25,-1.8)(27.25,-0.8)(28.25,-2.5)(29.25,-1.4)(30.25,-3.2)(31.25,-2.5)(32.25,0.3)(33.25,-5.4)(34.25,-3.9)(35.25,-9.6)(36.25,-6.8)(37.25,-5.4)(38.25,-6.1)(39.25,-7.5)(40.25,-0.4)(41.25,-1.1)(42.25,-1.8)(43.25,-1.4)(44.25,-1.8)(45.25,-1.1)(46.25,0.3)(47.25,-0.4)(48.25,0.6)(49.25,-1.1)(50.25,-0.4)(51.25,-1.4)(52.25,-0.8)(53.25,-0.4)(54.25,-1.1)(55.25,-0.8)(56.25,-1.4)(57.25,-0.8)(58.25,-1.4)(59.25,-0.4)(60.25,-1.1)(61.25,-0.8)(62.25,-1.8)(63.25,1.7)(64.25,0)(65.25,-1.1)(66.25,-2.3)}

\panel{308}{808.5}{Slovenia}{-11.9}{6.8}{-10,-5,0,5}{xbottom}{(3,0.56)(4,2.44)(5,1.11)(6,1.67)(7,1.33)(8,2.44)(9,2.22)(10,1.67)(11,1.11)(12,0.56)(13,0.56)(14,0)(15,-0.22)(16,0.22)(17,-0.56)(18,-0.22)(19,-0.89)(20,0)(21,-1.1)(22.5,-1.67)(23.7,-1.1)(25,-2.2)(26.2,-1.67)(27.5,-1.1)(28.7,-2.8)(29.9,-1.67)(31.2,-3.9)(32.4,-4.4)(33.7,-3.3)(34.9,-5.6)(36.1,-6.7)(37.4,-7.8)(38.4,-6.1)(39.1,-0.56)(40.4,0.56)(41.9,0.89)(43.6,0.56)(44.8,0.78)(46.1,0.56)(47.3,0.89)(48.5,1.11)(49.8,1.11)(51,1.67)(52.3,2.22)(53.5,3.33)(54.2,3.89)(55.2,3.11)(56.2,2.78)(57.2,1.67)(58.5,-0.56)(59.7,-1.11)(60.9,-1.33)(62.2,-1.67)(63.4,-2)(64.6,-2.22)(65.9,-2.22)}

\panel{435}{808.5}{Spain}{-2.75}{4.6}{-2,0,2,4}{xbottom}{(2.6,-0.66)(3.6,-0.35)(4.9,-0.57)(6.1,-1.23)(7.3,-0.57)(8.6,-1.23)(9.8,-0.92)(11.1,-1.23)(12.3,-0.79)(13.6,-1.23)(14.8,-1.01)(16,-1.36)(17.3,-0.79)(18.5,-1.36)(19.8,-1.01)(21,-0.66)(22.2,-1.23)(23.5,-0.92)(24.7,-1.45)(26,-1.01)(27.2,-1.23)(28.4,-0.57)(29.7,-1.01)(30.9,-0.35)(32.2,-0.22)(33.4,-0.13)(34.6,-0.13)(35.9,-0.04)(37.1,0.31)(38.4,0.66)(39.6,0.96)(40.8,1.18)(42.1,1.4)(43.3,1.84)(44.6,2.15)(45.8,2.28)(47.1,2.41)(48.3,2.59)(49.5,2.72)(50.8,3.03)(52,2.59)(53.3,2.94)(54.5,2.85)(55.7,2.72)(57,2.59)(58.2,2.4)(59.4,2.2)(60.7,1.9)(61.9,1.6)(63.2,1.3)(64.4,1.05)}

\end{tikzpicture}
\end{document}
